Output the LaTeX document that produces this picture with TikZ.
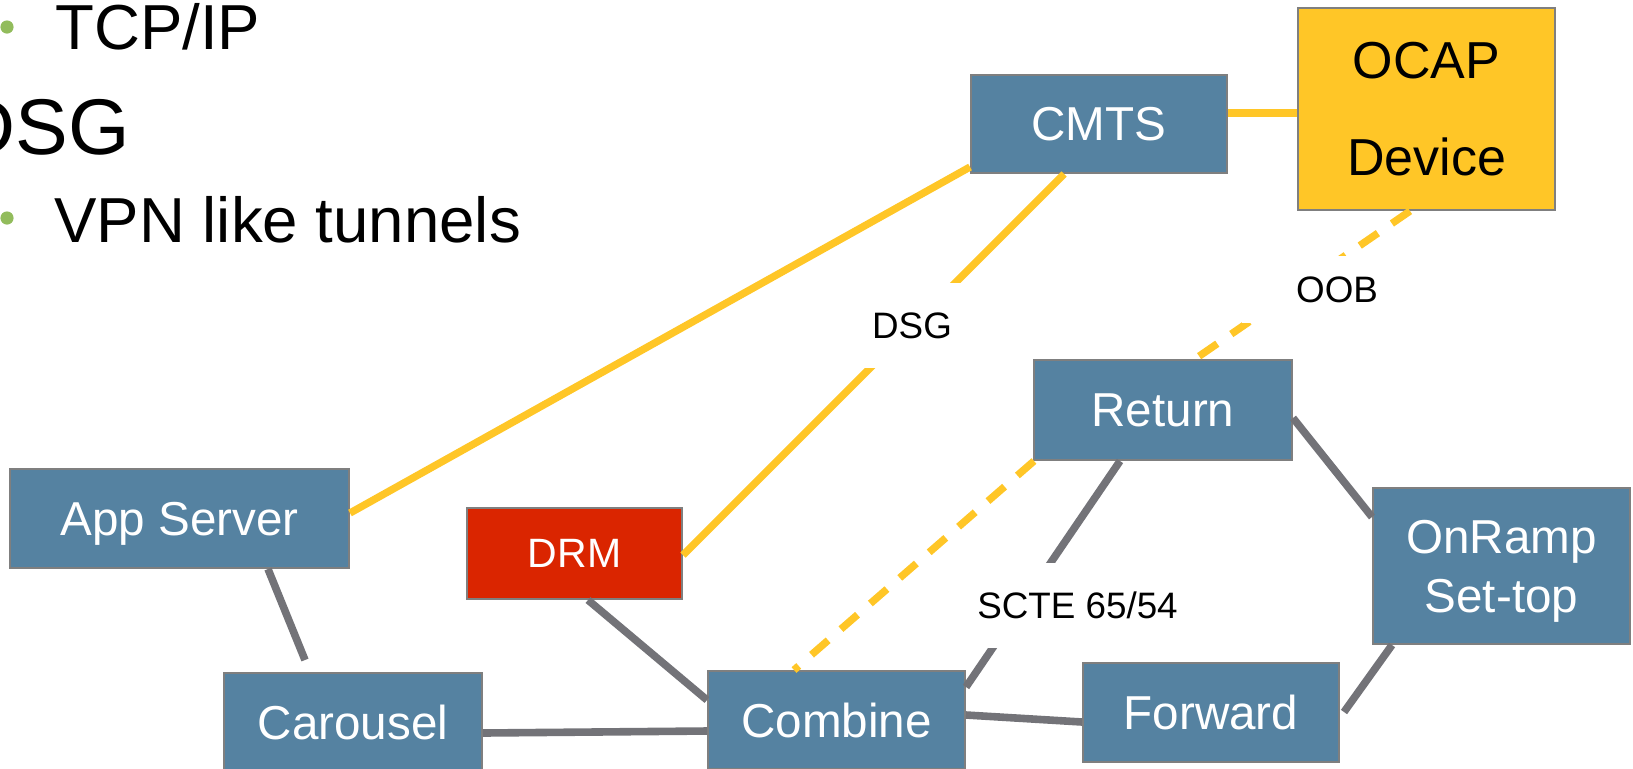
\documentclass[tikz,border=0pt]{standalone}
\usepackage{fontspec}
\setmainfont{Liberation Sans}
\usetikzlibrary{calc}
\definecolor{boxblue}{HTML}{5582A1}
\definecolor{boxgray}{HTML}{7F7F7F}
\definecolor{linkgray}{HTML}{737378}
\definecolor{ocapyellow}{HTML}{FFC627}
\definecolor{drmred}{HTML}{DA2500}
\definecolor{bulletgreen}{HTML}{92BC5C}
\begin{document}
\begin{tikzpicture}[x=0.5pt,y=-0.5pt,
  box/.style={draw=boxgray, line width=1pt, fill=boxblue, text=white, inner sep=0pt,
    font=\fontsize{23.8pt}{29.5pt}\selectfont, text depth=0pt, align=center},
  yellowlink/.style={draw=ocapyellow, line width=3.7pt},
  graylink/.style={draw=linkgray, line width=3.8pt},
  dashlink/.style={yellowlink, dash pattern=on 11pt off 8.5pt},
  lbl/.style={fill=white, inner sep=0pt, text=black, font=\fontsize{18.4pt}{22pt}\selectfont, text depth=0pt},
  toptext/.style={anchor=base west, inner sep=0pt, font=\fontsize{31.8pt}{36pt}\selectfont}
]
\useasboundingbox (0,0) rectangle (1633,768);

% top text
\fill[bulletgreen] (7,27) circle (3.3pt);
\node[toptext] (tcp) at (55,49) {TCP/IP};
\node[toptext, anchor=base east, font=\fontsize{39.5pt}{44pt}\selectfont] (dsg) at (130,154) {DSG};
\fill[bulletgreen] (7,218) circle (3.3pt);
\node[toptext] (vpn) at (54,242) {VPN like tunnels};

% boxes
\node[box, minimum width=128pt, minimum height=49pt] (cmts) at (1099,124) {CMTS};
\node[box, fill=ocapyellow, text=black, minimum width=128.5pt, minimum height=101pt,
  font=\fontsize{26pt}{48.5pt}\selectfont] (ocap) at (1426.5,109) {OCAP\\Device};
\node[box, minimum width=169.5pt, minimum height=49.5pt] (app) at (179.5,518.5) {App Server};
\node[box, fill=drmred, minimum width=107.5pt, minimum height=45.5pt,
  font=\fontsize{20.5pt}{24pt}\selectfont] (drm) at (574.5,553.5) {DRM};
\node[box, minimum width=129pt, minimum height=50pt] (return) at (1163,410) {Return};
\node[box, minimum width=128.5pt, minimum height=49pt] (combine) at (836.5,720) {Combine};
\node[box, minimum width=129pt, minimum height=49pt] (carousel) at (353,722) {Carousel};
\node[box, minimum width=128pt, minimum height=49.5pt] (forward) at (1211,712.5) {Forward};
\node[box, minimum width=128.5pt, minimum height=78pt] (onramp) at (1501.5,566) {OnRamp\\Set-top};

% yellow links
\draw[yellowlink] ($(app.east)+(0,-5.5)$) -- ($(cmts.west)+(0,43)$);
\draw[yellowlink] ($(cmts.east)+(0,-11)$) -- ($(ocap.west)+(0,4)$);
\draw[yellowlink] ($(drm.east)+(0,1.5)$) -- ($(cmts.south)+(-35,0)$);
\draw[dashlink] ($(ocap.south)+(-16.5,0)$) -- ($(return.north)+(32,0)$);
\draw[dashlink] ($(return.south west)+(1,0)$) -- ($(combine.north)+(-42.5,0)$);

% gray links
\draw[graylink] ($(return.south)+(-43,0)$) -- ($(combine.east)+(0,-33)$);
\draw[graylink] ($(app.south)+(88.5,0)$) -- ($(carousel.north)+(-48,-12)$);
\draw[graylink] ($(carousel.east)+(0,11)$) -- ($(combine.west)+(0,11)$);
\draw[graylink] ($(drm.south)+(13.5,0)$) -- ($(combine.west)+(0,-20)$);
\draw[graylink] ($(combine.east)+(0,-5)$) -- ($(forward.west)+(0,9.5)$);
\draw[graylink] ($(return.east)+(0,8)$) -- ($(onramp.west)+(0,-49)$);
\draw[graylink] ($(onramp.south)+(-109.5,0)$) -- ($(forward.east)+(4,-0.5)$);

% labels
\node[lbl, minimum width=52pt, minimum height=42.5pt] (dsglbl) at (912,325.5) {DSG};
\node[lbl, minimum height=33.5pt, text width=68pt, align=right] (ooblbl) at (1310,289.5) {OOB};
\node[lbl, minimum width=102.5pt, minimum height=42.5pt] (sctelbl) at (1077.5,605.5) {SCTE 65/54};
\end{tikzpicture}
\end{document}
